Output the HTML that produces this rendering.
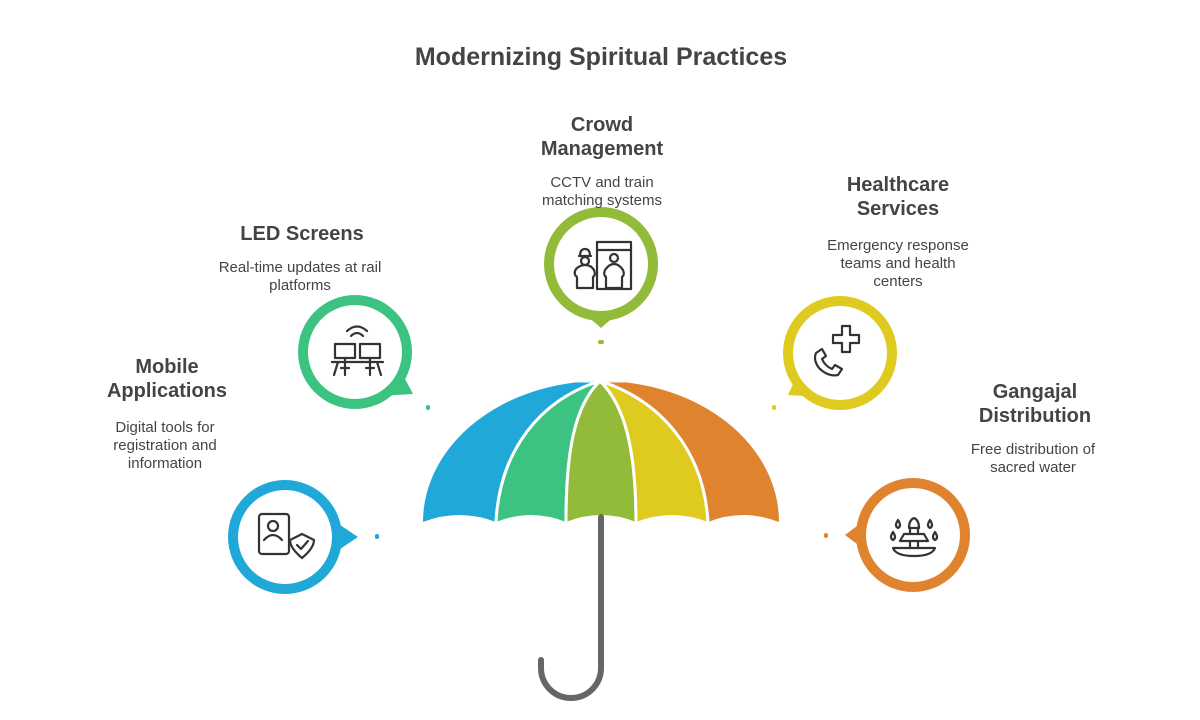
<!DOCTYPE html>
<html><head><meta charset="utf-8"><style>
html,body{margin:0;padding:0;background:#fff;}
svg{display:block;}
text{font-family:"Liberation Sans",sans-serif;fill:#444;}
.t{font-weight:bold;font-size:20px;text-anchor:middle;}
.d{font-size:15px;text-anchor:middle;}
.ic{fill:none;stroke:#333;stroke-width:2.2;stroke-linejoin:round;stroke-linecap:round;}
</style></head><body>
<svg width="1200" height="720" viewBox="0 0 1200 720">
<defs>
<clipPath id="dome">
<path d="M423,522 A178,141 0 0 1 779,522 Q743,508 708,522 Q672,508 636,522 Q601,508 566,522 Q531,508 496,522 Q459,508 423,522Z"/>
</clipPath>
</defs>
<text x="601" y="65" style="font-weight:bold;font-size:25px;text-anchor:middle">Modernizing Spiritual Practices</text>

<g clip-path="url(#dome)" stroke="#fff" stroke-width="3" stroke-linejoin="round">
<path d="M600,381 L380,381 L380,540 L496,540 L496,522 C500,450 540,400 600,381Z" fill="#1fa8d8"/>
<path d="M600,381 C540,400 500,450 496,522 L496,540 L566,540 L566,522 C566,450 575,405 600,381Z" fill="#3cc382"/>
<path d="M600,381 C575,405 566,450 566,522 L566,540 L636,540 L636,522 C636,450 625,405 600,381Z" fill="#92bb3a"/>
<path d="M600,381 C625,405 636,450 636,522 L636,540 L708,540 L708,522 C704,450 660,400 600,381Z" fill="#dfcb1f"/>
<path d="M600,381 C660,400 704,450 708,522 L708,540 L820,540 L820,381Z" fill="#e0832f"/>
</g>
<path d="M601,517 L601,668 A30,30 0 0 1 541,668 L541,660" fill="none" stroke="#666" stroke-width="6" stroke-linecap="round"/>

<rect x="375" y="534" width="4" height="5" rx="2" fill="#1fa8d8"/>
<rect x="426" y="405" width="4" height="5" rx="2" fill="#3cc382"/>
<rect x="598" y="340" width="6" height="4" rx="2" fill="#92bb3a"/>
<rect x="772" y="405" width="4" height="5" rx="2" fill="#dfcb1f"/>
<rect x="824" y="533" width="4" height="5" rx="2" fill="#e0832f"/>

<g fill="#1fa8d8"><circle cx="285" cy="537" r="57"/><polygon points="322,513 358,537 322,561"/></g>
<g fill="#3cc382"><circle cx="355" cy="352" r="57"/><polygon points="395,360 413,394 362,397"/></g>
<g fill="#92bb3a"><circle cx="601" cy="264" r="57"/><polygon points="578,308 601,328 624,308"/></g>
<g fill="#dfcb1f"><circle cx="840" cy="353" r="57"/><polygon points="803,362 788,395 838,398"/></g>
<g fill="#e0832f"><circle cx="913" cy="535" r="57"/><polygon points="877,511 845,535 877,559"/></g>
<g fill="#fff">
<circle cx="285" cy="537" r="47"/>
<circle cx="355" cy="352" r="47"/>
<circle cx="601" cy="264" r="47"/>
<circle cx="840" cy="353" r="47"/>
<circle cx="913" cy="535" r="47"/>
</g>

<g class="ic">
<rect x="259" y="514" width="30" height="40" rx="3"/>
<circle cx="273" cy="526" r="5"/>
<path d="M264,540 Q273,530 282,540"/>
<path d="M302,558 Q290,548 290,540 L302,534 L314,540 Q314,548 302,558Z" fill="#fff"/>
<path d="M297,545 L301,549 L308,541"/>
<rect x="335" y="344" width="20" height="14"/>
<rect x="360" y="344" width="20" height="14"/>
<path d="M332,362 H383 M338,362 L334,375 M377,362 L381,375 M345,362 V375 M341,368 H349 M370,362 V375 M366,368 H374 M345,358 V362 M370,358 V362"/>
<path d="M351,336 Q357,330 363,336 M347,331 Q357,322 367,331"/>
<g transform="translate(0,-4)">
<rect x="597" y="246" width="34" height="47"/>
<path d="M597,254 H631"/>
<circle cx="614" cy="262" r="4"/>
<path d="M606,292 V281 Q603,279 605,274 Q609,268 614,268 Q619,268 623,274 Q625,279 622,281 V292 Z"/>
<path d="M579,260 H591 M580,260 Q580,253 585,253 Q590,253 590,260"/>
<circle cx="585" cy="265" r="4"/>
<path d="M577,292 V281 Q573,278 576,273 Q580,269 585,269 Q591,269 594,274 Q596,279 593,281 V292 Z"/>
</g>
<path d="M833,335 H842 V326 H850 V335 H859 V343 H850 V352 H842 V343 H833 Z"/>
<path d="M816,353 L822,349 L826,356 L822,359 Q825,366 832,369 L835,365 L842,369 L838,375 Q828,377 819,368 Q813,360 816,353Z"/>
<path d="M893,548 H935 Q932,556 914,556 Q896,556 893,548Z"/>
<path d="M910,548 V541 M918,548 V541 M900,541 H928 L924,534 H904 Z M910,534 V528 H918 V534 M909,528 Q909,520 914,518 Q919,520 919,528"/>
<path d="M898,520 Q902,526 898,528 Q894,526 898,520 M930,520 Q934,526 930,528 Q926,526 930,520 M893,532 Q897,538 893,540 Q889,538 893,532 M935,532 Q939,538 935,540 Q931,538 935,532"/>
</g>

<text class="t" x="167" y="373">Mobile</text>
<text class="t" x="167" y="397">Applications</text>
<text class="d" x="165" y="432">Digital tools for</text>
<text class="d" x="165" y="450">registration and</text>
<text class="d" x="165" y="468">information</text>

<text class="t" x="302" y="240">LED Screens</text>
<text class="d" x="300" y="272">Real-time updates at rail</text>
<text class="d" x="300" y="290">platforms</text>

<text class="t" x="602" y="131">Crowd</text>
<text class="t" x="602" y="155">Management</text>
<text class="d" x="602" y="187">CCTV and train</text>
<text class="d" x="602" y="205">matching systems</text>

<text class="t" x="898" y="191">Healthcare</text>
<text class="t" x="898" y="215">Services</text>
<text class="d" x="898" y="250">Emergency response</text>
<text class="d" x="898" y="268">teams and health</text>
<text class="d" x="898" y="286">centers</text>

<text class="t" x="1035" y="398">Gangajal</text>
<text class="t" x="1035" y="422">Distribution</text>
<text class="d" x="1033" y="454">Free distribution of</text>
<text class="d" x="1033" y="472">sacred water</text>
</svg>
</body></html>
